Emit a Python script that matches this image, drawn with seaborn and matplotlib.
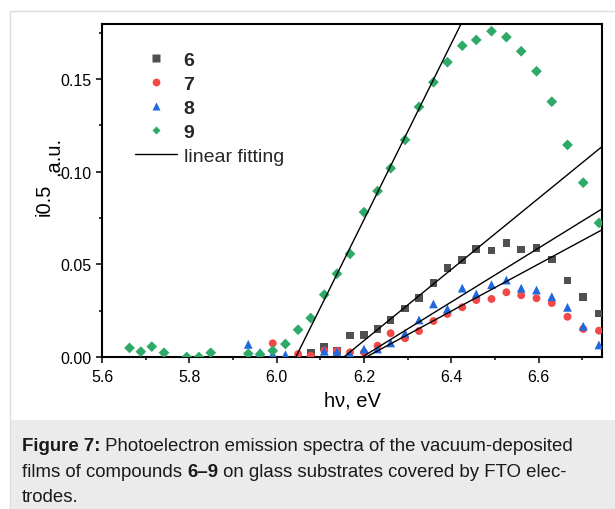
import numpy as np
import pandas as pd
import matplotlib
matplotlib.use("Agg")
import matplotlib.pyplot as plt
import seaborn as sns
from matplotlib.lines import Line2D
from matplotlib.patches import Rectangle
from matplotlib.ticker import MultipleLocator, FormatStrFormatter

# ---------------- data ----------------
x6 = [6.078, 6.109, 6.138, 6.168, 6.200, 6.231, 6.261, 6.294, 6.326, 6.359, 6.391,
      6.425, 6.457, 6.492, 6.526, 6.560, 6.595, 6.630, 6.666, 6.702, 6.738]
y6 = [0.0025, 0.0055, 0.0034, 0.0115, 0.0119, 0.0151, 0.0201, 0.0262, 0.0319, 0.0399, 0.0480,
      0.0523, 0.0583, 0.0574, 0.0614, 0.0579, 0.0587, 0.0526, 0.0413, 0.0324, 0.0235]

x7 = [5.991, 6.049, 6.078, 6.109, 6.138, 6.168, 6.200, 6.231, 6.261, 6.294, 6.326, 6.359,
      6.391, 6.425, 6.457, 6.492, 6.526, 6.560, 6.595, 6.630, 6.666, 6.702, 6.738]
y7 = [0.0074, 0.0016, 0.0007, 0.0034, 0.0034, 0.0025, 0.0025, 0.0061, 0.0128, 0.0101, 0.0140, 0.0194,
      0.0232, 0.0268, 0.0307, 0.0313, 0.0349, 0.0333, 0.0317, 0.0291, 0.0217, 0.0151, 0.0142]

x8 = [5.935, 5.962, 5.991, 6.020, 6.109, 6.138, 6.168, 6.200, 6.231, 6.261, 6.294, 6.326,
      6.359, 6.391, 6.425, 6.457, 6.492, 6.526, 6.560, 6.595, 6.630, 6.666, 6.702, 6.738]
y8 = [0.0068, 0.0025, 0.0016, 0.0012, 0.0031, 0.0029, 0.0016, 0.0043, 0.0043, 0.0076, 0.0128, 0.0200,
      0.0286, 0.0259, 0.0371, 0.0340, 0.0390, 0.0415, 0.0371, 0.0361, 0.0325, 0.0268, 0.0166, 0.0065]

x9 = [5.663, 5.689, 5.714, 5.742, 5.794, 5.822, 5.849, 5.935, 5.962, 5.991, 6.020, 6.049,
      6.078, 6.109, 6.138, 6.168, 6.200, 6.231, 6.261, 6.294, 6.326, 6.359, 6.391, 6.425,
      6.457, 6.492, 6.526, 6.560, 6.595, 6.630, 6.666, 6.702, 6.738]
y9 = [0.0049, 0.0029, 0.0056, 0.0023, 0.0000, 0.0000, 0.0023, 0.0018, 0.0015, 0.0034, 0.0070, 0.0147,
      0.0210, 0.0336, 0.0449, 0.0556, 0.0781, 0.0895, 0.1018, 0.1171, 0.1349, 0.1482, 0.1590, 0.1679,
      0.1710, 0.1757, 0.1725, 0.1649, 0.1541, 0.1377, 0.1144, 0.0940, 0.0723]

# linear fits: onset energy (eV) and slope (a.u./eV)
fit_names = ["6", "7", "8", "9"]
fit_onset = [6.154, 6.205, 6.196, 6.044]
fit_slope = [0.192, 0.127, 0.1455, 0.475]

series_labels = ["6", "7", "8", "9"]
legend_fit_label = "linear fitting"
x_ticks = [5.6, 5.8, 6.0, 6.2, 6.4, 6.6]
y_ticks = [0.00, 0.05, 0.10, 0.15]
xlabel = "h\u03bd, eV"

# ---------------- style ----------------
sns.set_theme(style="ticks")
plt.rcParams["font.family"] = ["Liberation Sans", "DejaVu Sans"]

W, H = 615, 510
fig = plt.figure(figsize=(W / 100, H / 100), dpi=100)
fig.patch.set_facecolor("white")

def fx(px):
    return px / W

def fy(py):
    return 1 - py / H

# page panel + caption band (behind axes)
fig.patches.append(Rectangle((fx(10), 0), 1.0, fy(12), transform=fig.transFigure,
                             facecolor="white", edgecolor="#dcdcdc", lw=1.0, zorder=-10))
fig.patches.append(Rectangle((fx(10.5), 0), 1.0, fy(421), transform=fig.transFigure,
                             facecolor="#ebebeb", edgecolor="none", zorder=-9))

ax = fig.add_axes([fx(102), fy(358), (602 - 102) / W, (358 - 25) / H])
ax.set_facecolor("white")

colors = {"6": "#505050", "7": "#f24848", "8": "#1f68dd", "9": "#2eaa68"}
markers = {"6": "s", "7": "o", "8": "^", "9": "D"}
sizes = {"6": 30, "7": 32, "8": 40, "9": 30}

data = {"6": (x6, y6), "7": (x7, y7), "8": (x8, y8), "9": (x9, y9)}
for k in series_labels:
    xs, ys = data[k]
    df = pd.DataFrame({"E": xs, "I": ys})
    sns.scatterplot(data=df, x="E", y="I", marker=markers[k], color=colors[k],
                    s=sizes[k], edgecolor="none", linewidth=0, ax=ax, legend=False, zorder=3)

for name, x0, k in zip(fit_names, fit_onset, fit_slope):
    xs = np.array([x0, 6.80])
    ax.plot(xs, k * (xs - x0), color="black", lw=1.0, zorder=4)

ax.set_xlim(5.6, 6.745)
ax.set_ylim(0, 0.1796)
ax.set_xticks(x_ticks)
ax.set_yticks(y_ticks)
ax.xaxis.set_minor_locator(MultipleLocator(0.1))
ax.yaxis.set_minor_locator(MultipleLocator(0.025))
ax.xaxis.set_major_formatter(FormatStrFormatter("%.1f"))
ax.yaxis.set_major_formatter(FormatStrFormatter("%.2f"))
ax.tick_params(which="major", direction="out", length=4, width=1.1, labelsize=11.5,
               colors="black", pad=3.5)
ax.tick_params(axis="x", which="major", pad=5)
ax.tick_params(which="minor", direction="out", length=2.3, width=1.1, colors="black")
for sp in ax.spines.values():
    sp.set_linewidth(1.5)
    sp.set_color("black")

ax.set_xlabel(xlabel, fontsize=14.5, labelpad=4.5, color="black")
ax.set_ylabel("")

# y label: "i0.5" followed by lowered ",a.u." as in the figure
fig.text(fx(50), fy(200), "i0.5", rotation=90, rotation_mode="anchor",
         ha="center", va="baseline", fontsize=14.5, color="black")
fig.text(fx(58.5), fy(156), ",a.u.", rotation=90, rotation_mode="anchor",
         ha="center", va="baseline", fontsize=14.5, color="black")

# legend
handles = [
    Line2D([], [], ls="", marker="s", ms=5.2, color=colors["6"], mec="none"),
    Line2D([], [], ls="", marker="o", ms=5.6, color=colors["7"], mec="none"),
    Line2D([], [], ls="", marker="^", ms=6.2, color=colors["8"], mec="none"),
    Line2D([], [], ls="", marker="D", ms=4.3, color=colors["9"], mec="none"),
    Line2D([], [], color="black", lw=1.0),
]
leg = ax.legend(handles, series_labels + [legend_fit_label], loc="upper left",
                bbox_to_anchor=((135 - 102) / 500, (358 - 52) / 333), frameon=False,
                fontsize=14, handlelength=2.15, handletextpad=0.35, labelspacing=0.33,
                borderpad=0, borderaxespad=0)
for t in leg.get_texts()[:4]:
    t.set_fontweight("bold")

# caption
fig.canvas.draw()
renderer = fig.canvas.get_renderer()
cap_size = 13.4

def cap_line(parts, px, py):
    x = px
    for txt, bold in parts:
        t = fig.text(fx(x), fy(py), txt, fontsize=cap_size, va="baseline", ha="left",
                     fontweight="bold" if bold else "normal", color="#1a1a1a")
        bb = t.get_window_extent(renderer=renderer)
        x += bb.width

cap_line([("Figure 7:", True), (" Photoelectron emission spectra of the vacuum-deposited", False)], 22, 451.5)
cap_line([("films of compounds ", False), ("6\u20139", True), (" on glass substrates covered by FTO elec-", False)], 22, 477)
cap_line([("trodes.", False)], 22, 502)

fig.savefig("out.png", dpi=100, facecolor=fig.get_facecolor())
